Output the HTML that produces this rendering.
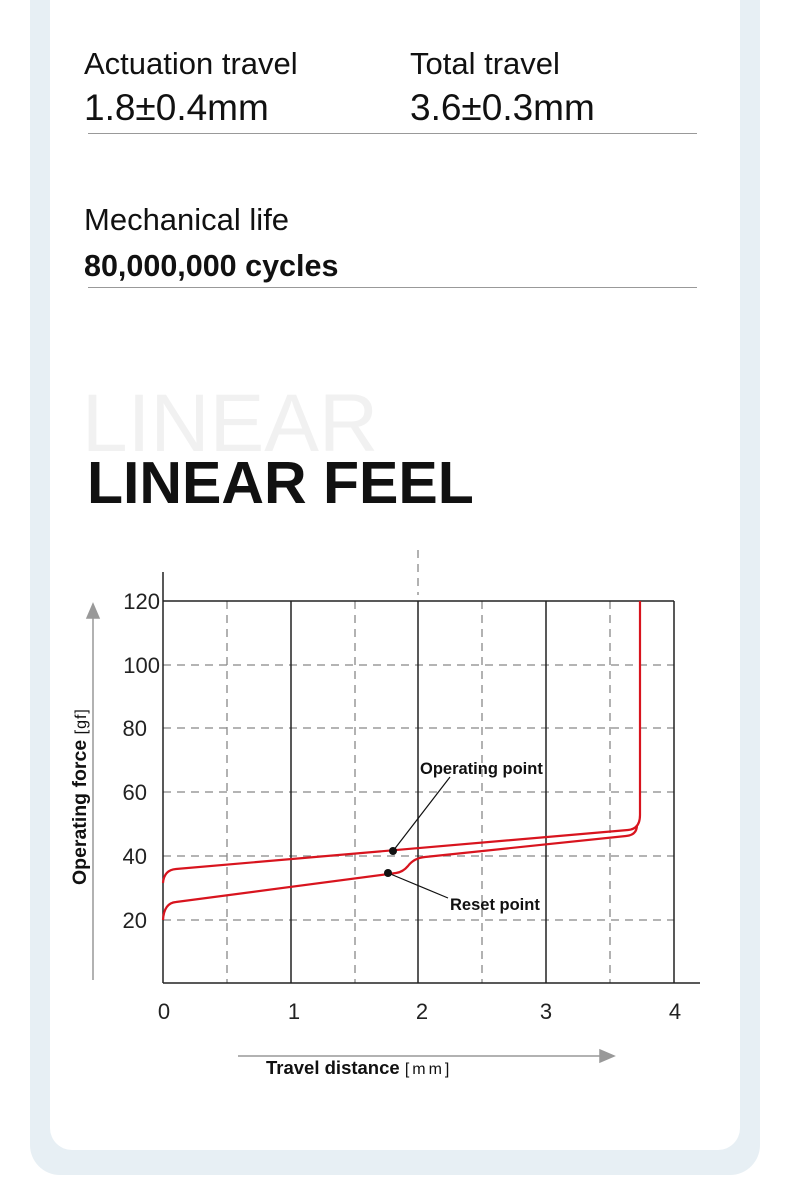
<!DOCTYPE html>
<html><head><meta charset="utf-8"><style>
html,body{margin:0;padding:0;background:#fff;}
body{width:790px;height:1200px;position:relative;overflow:hidden;font-family:"Liberation Sans",sans-serif;}
.outer{position:absolute;left:30px;top:-40px;width:730px;height:1215px;background:#e7eff4;border-radius:30px;}
.card{position:absolute;left:50px;top:-40px;width:690px;height:1190px;background:#fff;border-radius:22px;}
.t{position:absolute;color:#111;white-space:nowrap;}
.hr{position:absolute;height:1px;background:#999;}
</style></head><body>
<div class="outer"></div><div class="card"></div>
<div class="t" style="left:84px;top:46px;font-size:31px;">Actuation travel</div>
<div class="t" style="left:410px;top:46px;font-size:31px;">Total travel</div>
<div class="t" style="left:84px;top:87px;font-size:37px;">1.8±0.4mm</div>
<div class="t" style="left:410px;top:87px;font-size:37px;">3.6±0.3mm</div>
<div class="hr" style="left:88px;top:133px;width:609px;"></div>
<div class="t" style="left:84px;top:202px;font-size:31px;">Mechanical life</div>
<div class="t" style="left:84px;top:249px;font-size:30.5px;font-weight:bold;">80,000,000 cycles</div>
<div class="hr" style="left:88px;top:287px;width:609px;"></div>
<div class="t" style="left:82px;top:377px;font-size:82px;color:#f1f1f1;">LINEAR</div>
<div class="t" style="left:87px;top:449px;font-size:59px;font-weight:bold;">LINEAR FEEL</div>
<svg width="790" height="1200" style="position:absolute;left:0;top:0" font-family="Liberation Sans, sans-serif">
<g stroke="#888" stroke-width="1.3" stroke-dasharray="8,6" fill="none">
<line x1="163" y1="665" x2="674" y2="665"/><line x1="163" y1="728" x2="674" y2="728"/>
<line x1="163" y1="792" x2="674" y2="792"/><line x1="163" y1="856" x2="674" y2="856"/>
<line x1="163" y1="920" x2="674" y2="920"/>
<line x1="227" y1="601" x2="227" y2="983"/><line x1="355" y1="601" x2="355" y2="983"/>
<line x1="482" y1="601" x2="482" y2="983"/><line x1="610" y1="601" x2="610" y2="983"/>
<line x1="418" y1="550" x2="418" y2="595"/>
</g>
<g stroke="#222" stroke-width="1.5" fill="none">
<line x1="163" y1="572" x2="163" y2="983"/><line x1="163" y1="983" x2="700" y2="983"/>
<line x1="163" y1="601" x2="674" y2="601"/>
<line x1="291" y1="601" x2="291" y2="983"/><line x1="418" y1="601" x2="418" y2="983"/>
<line x1="546" y1="601" x2="546" y2="983"/><line x1="674" y1="601" x2="674" y2="983"/>
</g>
<g stroke="#999" stroke-width="1.5" fill="#999">
<line x1="93" y1="980" x2="93" y2="615"/><polygon points="87,618 99,618 93,604"/>
<line x1="238" y1="1056" x2="603" y2="1056"/><polygon points="600,1050 600,1062 614,1056"/>
</g>
<g stroke="#d8141e" stroke-width="2.2" fill="none">
<path d="M163,883 Q164,870 176,869 L628,830 Q640,829 640,815 L640,601"/>
<path d="M163,920 Q164,903 176,902 L396,873 Q403,872 408,866 Q414,858 425,857 L626,836 Q637,835 637,825"/>
</g>
<g stroke="#111" stroke-width="1.2" fill="none">
<line x1="393" y1="851" x2="450" y2="777"/><line x1="388" y1="873" x2="448" y2="898"/>
</g>
<circle cx="393" cy="851" r="4" fill="#111"/><circle cx="388" cy="873" r="4" fill="#111"/>
<g font-size="16.5" font-weight="bold" fill="#111">
<text x="420" y="774">Operating point</text><text x="450" y="910">Reset point</text>
</g>
<g font-size="22" fill="#222" text-anchor="end">
<text x="160" y="609">120</text><text x="160" y="673">100</text><text x="147" y="736">80</text>
<text x="147" y="800">60</text><text x="147" y="864">40</text><text x="147" y="928">20</text>
</g>
<g font-size="22" fill="#222" text-anchor="middle">
<text x="164" y="1019">0</text><text x="294" y="1019">1</text><text x="422" y="1019">2</text>
<text x="546" y="1019">3</text><text x="675" y="1019">4</text>
</g>
<text transform="translate(86,885) rotate(-90)" font-size="19.5" font-weight="bold" fill="#111">Operating force <tspan font-weight="normal" font-size="16" letter-spacing="1">[gf]</tspan></text>
<text x="266" y="1074" font-size="18.5" font-weight="bold" fill="#111">Travel distance <tspan font-weight="normal" font-size="16" letter-spacing="3">[mm]</tspan></text>
</svg>
</body></html>
